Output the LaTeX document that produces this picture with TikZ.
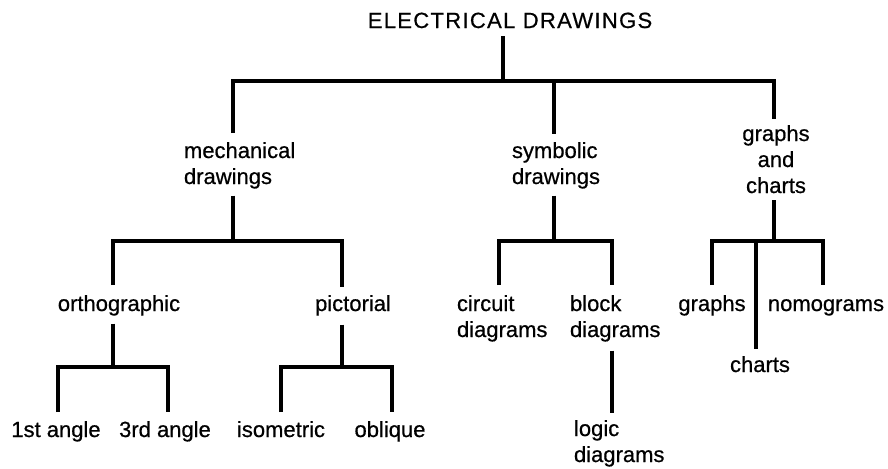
\documentclass[tikz,border=0pt]{standalone}
\usepackage{fontspec}
\setmainfont[FakeBold=0.6]{Liberation Sans}
\usetikzlibrary{calc}
\begin{document}
\begin{tikzpicture}[x=0.5pt,y=-0.5pt,
  lbl/.style={inner sep=0pt, outer sep=0pt, font=\fontsize{11}{13}\selectfont},
  one/.style={lbl, text height=8pt},
  br/.style={line width=2.4pt, line cap=butt, line join=miter}]
\fill[white] (0,0) rectangle (888,468);
\useasboundingbox (0,0) rectangle (888,468);
% nodes
\node[one, anchor=base, font=\fontsize{11}{13}\selectfont\addfontfeature{LetterSpace=6}] (root) at (510,28) {ELECTRICAL DRAWINGS};
\node[lbl, anchor=base west, align=left] (mech) at (184,184) {mechanical\\drawings};
\node[lbl, anchor=base west, align=left] (symb) at (512,184) {symbolic\\drawings};
\node[lbl, anchor=base, align=center] (gc) at (776,193) {graphs\\and\\charts};
\node[one, anchor=base] (ortho) at (119,311) {orthographic};
\node[one, anchor=base] (pict) at (353,311) {pictorial};
\node[lbl, anchor=base west, align=left] (circ) at (457,337) {circuit\\diagrams};
\node[lbl, anchor=base west, align=left] (block) at (570,337) {block\\diagrams};
\node[one, anchor=base] (graphs) at (712,311) {graphs};
\node[one, anchor=base] (nomo) at (826,311) {nomograms};
\node[one, anchor=base] (charts) at (760,372) {charts};
\node[lbl, anchor=base west, align=left] (logic) at (574,462) {logic\\diagrams};
\node[one, anchor=base] (a1) at (56,437) {1st angle};
\node[one, anchor=base] (a3) at (165,437) {3rd angle};
\node[one, anchor=base] (iso) at (281,437) {isometric};
\node[one, anchor=base] (obl) at (390,437) {oblique};
% junctions
\coordinate (j0) at (503,81);
\coordinate (xm) at (233,241);
\coordinate (xs) at (554,241);
\coordinate (xg) at (774,241);
\coordinate (xo) at (113,367);
\coordinate (xp) at (342,367);
\coordinate (x1) at (58,367);
\coordinate (x3) at (168,367);
\coordinate (xi) at (281,367);
\coordinate (xb) at (392,367);
\coordinate (xc) at (499,241);
\coordinate (xk) at (612,241);
\coordinate (xgr) at (712,241);
\coordinate (xn) at (823,241);
\coordinate (xch) at (756,241);
% level 0
\draw[br] ($(root.south -| j0)+(0,8)$) -- (j0);
\draw[br] ($(mech.north -| xm)+(0,-9)$) |- (j0) -| ($(gc.north -| xg)+(0,-6)$);
\draw[br] (j0 -| xs) -- ($(symb.north -| xs)+(0,-8)$);
% mechanical
\draw[br] ($(mech.south -| xm)+(0,7)$) -- (xm);
\draw[br] ($(ortho.north -| xo)+(0,-10)$) |- (xm) -| ($(pict.north -| xp)+(0,-8)$);
\draw[br] ($(ortho.south -| xo)+(0,8)$) -- (xo);
\draw[br] ($(a1.north -| x1)+(0,-9)$) |- (xo) -| ($(a3.north -| x3)+(0,-9)$);
\draw[br] ($(pict.south -| xp)+(0,9)$) -- (xp);
\draw[br] ($(iso.north -| xi)+(0,-9)$) |- (xp) -| ($(obl.north -| xb)+(0,-9)$);
% symbolic
\draw[br] ($(symb.south -| xs)+(0,7)$) -- (xs);
\draw[br] ($(circ.north -| xc)+(0,-10)$) |- (xs) -| ($(block.north -| xk)+(0,-10)$);
\draw[br] ($(block.south -| xk)+(0,9)$) -- ($(logic.north -| xk)+(0,-7)$);
% graphs and charts
\draw[br] ($(gc.south -| xg)+(0,7)$) -- (xg);
\draw[br] ($(graphs.north -| xgr)+(0,-10)$) |- (xg) -| ($(nomo.north -| xn)+(0,-10)$);
\draw[br] (xch) -- ($(charts.north -| xch)+(0,-7)$);
\end{tikzpicture}
\end{document}
